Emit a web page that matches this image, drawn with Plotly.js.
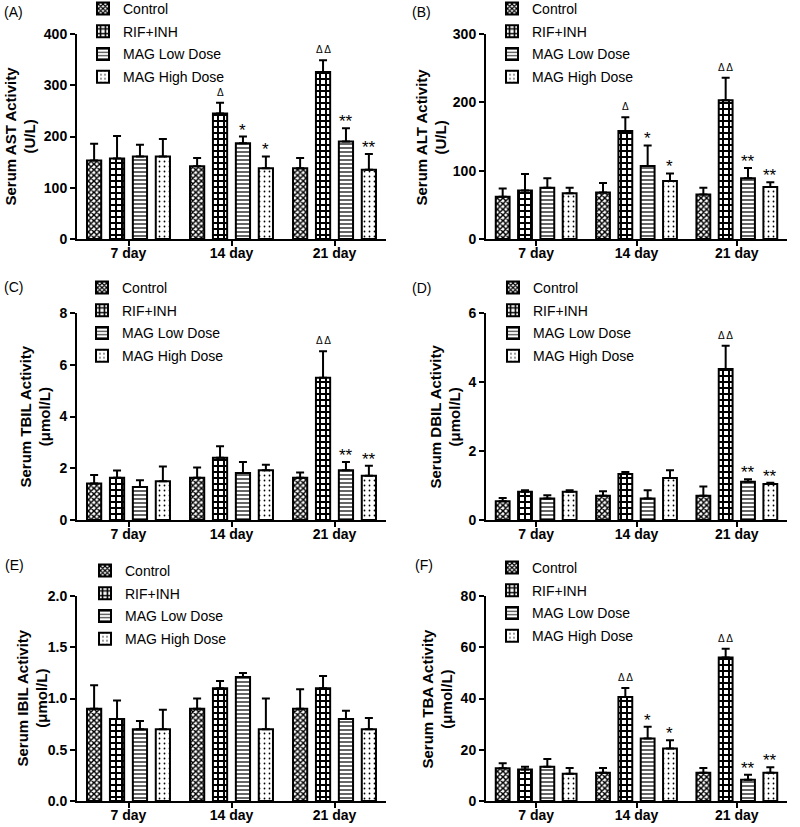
<!DOCTYPE html>
<html><head><meta charset="utf-8">
<script src="https://cdn.plot.ly/plotly-3.0.1.min.js"></script>
<style>body{margin:0;background:#fff}#chart{width:800px;height:827px}</style>
</head><body><div id="chart"></div>
<script>
// ---------- data ----------
const days = ['7 day', '14 day', '21 day'];
const groupNames = ['Control', 'RIF+INH', 'MAG Low Dose', 'MAG High Dose'];

// (A) Serum AST (U/L)
const astControl = [153, 142, 138];  const astControlErr = [33, 16, 20];
const astRif     = [157, 245, 326];  const astRifErr     = [44, 21, 23];
const astLow     = [161, 187, 190];  const astLowErr     = [23, 13, 26];
const astHigh    = [161, 138, 135];  const astHighErr    = [34, 23, 31];
const astSig = [['', '', ''], ['', 'Δ', 'ΔΔ'], ['', '*', '**'], ['', '*', '**']];

// (B) Serum ALT (U/L)
const altControl = [62, 68, 65];     const altControlErr = [12, 14, 10];
const altRif     = [71, 158, 203];   const altRifErr     = [24, 20, 33];
const altLow     = [75, 107, 89];    const altLowErr     = [14, 30, 15];
const altHigh    = [67, 85, 76];     const altHighErr    = [8, 11, 7];
const altSig = [['', '', ''], ['', 'Δ', 'ΔΔ'], ['', '*', '**'], ['', '*', '**']];

// (C) Serum TBIL (µmol/L)
const tbilControl = [1.41, 1.63, 1.63]; const tbilControlErr = [0.33, 0.40, 0.21];
const tbilRif     = [1.63, 2.41, 5.50]; const tbilRifErr     = [0.28, 0.44, 1.02];
const tbilLow     = [1.28, 1.82, 1.92]; const tbilLowErr     = [0.26, 0.42, 0.32];
const tbilHigh    = [1.50, 1.92, 1.71]; const tbilHighErr    = [0.57, 0.22, 0.39];
const tbilSig = [['', '', ''], ['', '', 'ΔΔ'], ['', '', '**'], ['', '', '**']];

// (D) Serum DBIL (µmol/L)
const dbilControl = [0.54, 0.70, 0.70]; const dbilControlErr = [0.10, 0.13, 0.27];
const dbilRif     = [0.82, 1.33, 4.38]; const dbilRifErr     = [0.04, 0.06, 0.67];
const dbilLow     = [0.62, 0.62, 1.11]; const dbilLowErr     = [0.10, 0.24, 0.07];
const dbilHigh    = [0.82, 1.22, 1.04]; const dbilHighErr    = [0.04, 0.22, 0.04];
const dbilSig = [['', '', ''], ['', '', 'ΔΔ'], ['', '', '**'], ['', '', '**']];

// (E) Serum IBIL (µmol/L)
const ibilControl = [0.90, 0.90, 0.90]; const ibilControlErr = [0.23, 0.10, 0.19];
const ibilRif     = [0.80, 1.10, 1.10]; const ibilRifErr     = [0.18, 0.07, 0.12];
const ibilLow     = [0.70, 1.21, 0.80]; const ibilLowErr     = [0.08, 0.04, 0.08];
const ibilHigh    = [0.70, 0.70, 0.70]; const ibilHighErr    = [0.19, 0.30, 0.11];
const ibilSig = [['', '', ''], ['', '', ''], ['', '', ''], ['', '', '']];

// (F) Serum TBA (µmol/L)
const tbaControl = [12.8, 11.0, 11.0];  const tbaControlErr = [1.9, 1.9, 1.9];
const tbaRif     = [12.3, 40.6, 56.0];  const tbaRifErr     = [1.1, 3.5, 3.4];
const tbaLow     = [13.4, 24.4, 8.3];   const tbaLowErr     = [3.0, 4.6, 1.9];
const tbaHigh    = [10.6, 20.5, 11.0];  const tbaHighErr    = [2.3, 3.2, 2.2];
const tbaSig = [['', '', ''], ['', 'ΔΔ', 'ΔΔ'], ['', '*', '**'], ['', '*', '**']];

const panelLetters = ['(A)', '(B)', '(C)', '(D)', '(E)', '(F)'];
const yTitles = [
  ['Serum AST Activity', '(U/L)'],
  ['Serum ALT Activity', '(U/L)'],
  ['Serum TBIL Activity', '(μmol/L)'],
  ['Serum DBIL Activity', '(μmol/L)'],
  ['Serum IBIL Activity', '(μmol/L)'],
  ['Serum TBA Activity', '(μmol/L)']
];
const yMaxes = [400, 300, 8, 6, 2, 80];
const yDticks = [100, 100, 2, 2, 0.5, 20];
const yFormats = ['', '', '', '', '.1f', ''];

// ---------- assemble ----------
const panelMeans = [
  [astControl, astRif, astLow, astHigh],
  [altControl, altRif, altLow, altHigh],
  [tbilControl, tbilRif, tbilLow, tbilHigh],
  [dbilControl, dbilRif, dbilLow, dbilHigh],
  [ibilControl, ibilRif, ibilLow, ibilHigh],
  [tbaControl, tbaRif, tbaLow, tbaHigh]
];
const panelErrs = [
  [astControlErr, astRifErr, astLowErr, astHighErr],
  [altControlErr, altRifErr, altLowErr, altHighErr],
  [tbilControlErr, tbilRifErr, tbilLowErr, tbilHighErr],
  [dbilControlErr, dbilRifErr, dbilLowErr, dbilHighErr],
  [ibilControlErr, ibilRifErr, ibilLowErr, ibilHighErr],
  [tbaControlErr, tbaRifErr, tbaLowErr, tbaHighErr]
];
const panelSigs = [astSig, altSig, tbilSig, dbilSig, ibilSig, tbaSig];

// ---------- styling / geometry ----------
const W = 800, H = 827;
const FONT = 'Liberation Sans, Arial, Helvetica, sans-serif';
const colX = [[77, 386], [486, 787]];
const rowY = [[34, 239], [313, 520], [596, 801]];
const titleX = [20, 431, 35, 445, 32, 437];
const legendPos = [[83, -7], [492, -7], [82, 272], [493, 272], [85, 555], [492, 552]];
const letterPos = [[2, 12], [410, 12], [2, 287], [410, 288], [3, 565], [413, 565]];
const BARGAP = 0.11, BARGROUPGAP = 0.38;

const patterns = [
  {shape: 'x', size: 4, solidity: 0.6},
  {shape: '+', size: 6, solidity: 0.55},
  {shape: '-', size: 4, solidity: 0.3},
  {shape: '.', size: 5, solidity: 0.1}
];

const px2x = p => p / W;
const px2y = p => 1 - p / H;

const traces = [];
const annotations = [];
const layout = {
  width: W, height: H,
  margin: {l: 0, r: 0, t: 0, b: 0, autoexpand: false},
  paper_bgcolor: 'white', plot_bgcolor: 'white',
  barmode: 'group', bargap: BARGAP, bargroupgap: BARGROUPGAP,
  showlegend: true,
  font: {family: FONT, color: 'black'}
};

for (let p = 0; p < 6; p++) {
  const col = p % 2, row = Math.floor(p / 2);
  const sfx = p === 0 ? '' : String(p + 1);
  const xa = 'x' + sfx, ya = 'y' + sfx;
  const legId = 'legend' + sfx;

  for (let s = 0; s < 4; s++) {
    traces.push({
      type: 'bar',
      x: days,
      y: panelMeans[p][s],
      name: groupNames[s],
      xaxis: xa, yaxis: ya,
      legend: legId,
      legendgroup: 'p' + p + 's' + s,
      marker: {
        color: 'white',
        line: {color: 'black', width: 2},
        pattern: Object.assign({fgcolor: 'black', bgcolor: 'white', fillmode: 'replace'}, patterns[s])
      },
      error_y: {
        type: 'data', symmetric: false,
        array: panelErrs[p][s],
        arrayminus: panelErrs[p][s].map(() => 0),
        color: 'black', thickness: 2, width: 4
      },
      hoverinfo: 'skip'
    });
  }

  const xDom = [px2x(colX[col][0]), px2x(colX[col][1])];
  const yDom = [px2y(rowY[row][1]), px2y(rowY[row][0])];
  layout['xaxis' + sfx] = {
    domain: xDom, anchor: ya, type: 'category',
    range: [-0.5, 2.5],
    showline: true, linecolor: 'black', linewidth: 2,
    ticks: 'outside', ticklen: 5, tickwidth: 2, tickcolor: 'black',
    ticklabelstandoff: -5,
    showgrid: false, zeroline: false, fixedrange: true, automargin: false,
    tickfont: {family: FONT, size: 14, weight: 'bold', color: 'black'}
  };
  layout['yaxis' + sfx] = {
    domain: yDom, anchor: xa,
    range: [0, yMaxes[p]], dtick: yDticks[p], tick0: 0,
    tickformat: yFormats[p],
    showline: true, linecolor: 'black', linewidth: 2,
    ticks: 'outside', ticklen: 5, tickwidth: 2, tickcolor: 'black',
    showgrid: false, zeroline: false, fixedrange: true, automargin: false,
    tickfont: {family: FONT, size: 14, weight: 'bold', color: 'black'}
  };
  layout[legId] = {
    x: px2x(legendPos[p][0]), y: px2y(legendPos[p][1]),
    xanchor: 'left', yanchor: 'top',
    bgcolor: 'rgba(0,0,0,0)', borderwidth: 0,
    font: {family: FONT, size: 14, color: 'black'},
    tracegroupgap: 1.5
  };

  // panel letter
  annotations.push({
    xref: 'paper', yref: 'paper',
    x: px2x(letterPos[p][0]), y: px2y(letterPos[p][1]),
    xanchor: 'left', yanchor: 'middle', showarrow: false,
    text: panelLetters[p], font: {family: FONT, size: 14, color: 'black'}
  });
  // y title
  annotations.push({
    xref: 'paper', yref: 'paper',
    x: px2x(titleX[p]), y: px2y((rowY[row][0] + rowY[row][1]) / 2),
    xanchor: 'center', yanchor: 'middle', showarrow: false, textangle: -90,
    text: '<b>' + yTitles[p][0] + '</b><br><b>' + yTitles[p][1] + '</b>',
    font: {family: FONT, size: 15, color: 'black'}
  });
  // significance marks
  const slot = (1 - BARGAP) / 4;
  for (let s = 0; s < 4; s++) {
    for (let d = 0; d < 3; d++) {
      const mark = panelSigs[p][s][d];
      if (!mark) continue;
      const isTri = mark.indexOf('Δ') >= 0;
      annotations.push({
        xref: xa, yref: ya,
        x: d - (1 - BARGAP) / 2 + slot * (s + 0.5),
        y: panelMeans[p][s][d] + panelErrs[p][s][d],
        xanchor: 'center', yanchor: 'bottom', showarrow: false,
        text: isTri ? mark.split('').join(' ') : mark,
        yshift: isTri ? 3 : -5,
        font: {family: FONT, size: isTri ? 10 : 17, color: 'black'}
      });
    }
  }
}
layout.annotations = annotations;

Plotly.newPlot('chart', traces, layout, {staticPlot: true, displayModeBar: false});
</script>
</body></html>
